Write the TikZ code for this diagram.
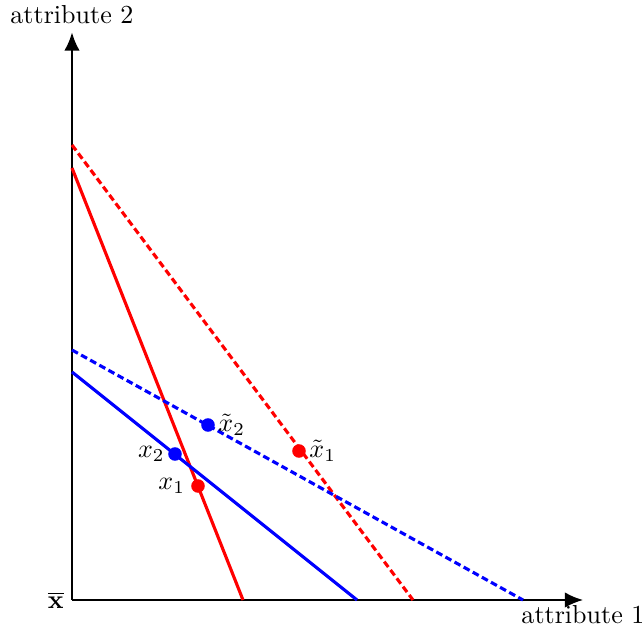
\documentclass[tikz,border=0pt]{standalone}
\usepackage{amsmath}
\usetikzlibrary{arrows.meta}

\begin{document}
\begin{tikzpicture}[
    x=0.675cm, y=0.675cm,
    >={Latex[length=7pt,width=6pt]},
]

\tikzset{
    axis/.style = {thick, ->},
    solidline/.style = {very thick},
    dashline/.style = {very thick, dash pattern=on 2.6pt off 1.4pt},
    pointdot/.style = {circle, fill, inner sep=0pt, minimum size=5.2pt},
    plabel/.style = {inner sep=1pt}
}

\useasboundingbox (-1.44,-0.7) rectangle (11.4,12);

% Axes
\coordinate (origin) at (0,0);
\coordinate (xend) at (10.22,0);
\coordinate (yend) at (0,11.35);
\draw[axis] (origin) -- (xend);
\draw[axis] (origin) -- (yend);
\node[anchor=north, inner sep=2pt] (xlabel) at (xend) {attribute 1};
\node[anchor=south, inner sep=3pt] (ylabel) at (yend) {attribute 2};
\node[anchor=east, inner sep=3pt] (xbar) at (origin) {$\overline{\mathbf{x}}$};

% Red lines
\coordinate (r1a) at (0,8.64);
\coordinate (r1b) at (3.42,0);
\coordinate (r2a) at (0,9.1);
\coordinate (r2b) at (6.82,0);
\draw[solidline, red] (r1a) -- (r1b);
\draw[dashline, red] (r2a) -- (r2b);

% Blue lines
\coordinate (b1a) at (0,4.56);
\coordinate (b1b) at (5.7,0);
\coordinate (b2a) at (0,5.0);
\coordinate (b2b) at (9.02,0);
\draw[solidline, blue] (b1a) -- (b1b);
\draw[dashline, blue] (b2a) -- (b2b);

% Points
\node[pointdot, red] (x1) at (2.52,2.28) {};
\node[pointdot, blue] (x2) at (2.06,2.92) {};
\node[pointdot, blue] (xt2) at (2.72,3.5) {};
\node[pointdot, red] (xt1) at (4.54,2.98) {};

\node[plabel, left=1pt] (x1lab) at (x1.west) {$x_1$};
\node[plabel, left=0pt] (x2lab) at (x2.west) {$x_2$};
\node[plabel, right=0pt] (xt2lab) at (xt2.east) {$\tilde{x}_2$};
\node[plabel, right=0pt] (xt1lab) at (xt1.east) {$\tilde{x}_1$};

\end{tikzpicture}
\end{document}
